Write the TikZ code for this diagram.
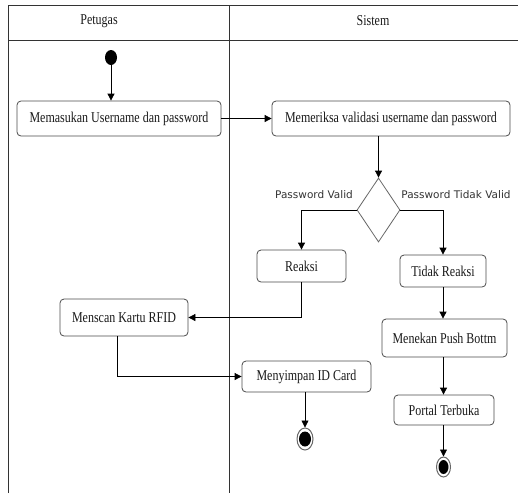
\documentclass[tikz,border=0pt]{standalone}
\usepackage{fontspec}
\setmainfont{Liberation Serif}[FakeStretch=0.8]
\newfontfamily\lblfont{DejaVu Sans}
\usetikzlibrary{shapes.geometric,arrows.meta}
\begin{document}
\begin{tikzpicture}[x=1pt,y=-1pt,
  lane/.style={draw=black!80,line width=0.9pt},
  act/.style={draw=black!70,line width=0.8pt,rounded corners=4pt,fill=white,inner sep=0pt,font=\fontsize{15}{16}\selectfont,text=black!90},
  flow/.style={draw=black,line width=0.8pt,-{Triangle[length=7pt,width=7pt]}},
  guard/.style={font=\lblfont\fontsize{10.5}{12}\selectfont,text=black!80},
  hdr/.style={font=\fontsize{15}{16}\selectfont,text=black!90}]
\useasboundingbox (0,0) rectangle (518,493);
% swimlanes
\draw[lane] (8,493) -- (8,5) -- (518,5);
\draw[lane] (8,40) -- (518,40);
\draw[lane] (229,5) -- (229,493);
\node[hdr] (h1) at (99,21) {Petugas};
\node[hdr] (h2) at (373,21) {Sistem};
% nodes
\node[ellipse,fill=black,inner sep=0pt,minimum width=12,minimum height=15] (start) at (111,57.5) {};
\node[act,minimum width=204,minimum height=35] (b1) at (119,118.5) {Memasukan Username dan password};
\node[act,minimum width=238,minimum height=35] (b2) at (391,118.5) {Memeriksa validasi username dan password};
\node[diamond,draw=black!60,line width=0.8pt,inner sep=0pt,minimum width=43,minimum height=64] (dec) at (378.5,210) {};
\node[act,minimum width=89,minimum height=32] (reaksi) at (301.5,266) {Reaksi};
\node[act,minimum width=86,minimum height=32] (tidak) at (443,271) {Tidak Reaksi};
\node[act,minimum width=128,minimum height=37] (scan) at (124,317.5) {Menscan Kartu RFID};
\node[act,minimum width=125,minimum height=38] (push) at (444.5,338) {Menekan Push Bottm};
\node[act,minimum width=129,minimum height=31] (simpan) at (306.5,376.5) {Menyimpan ID Card};
\node[act,minimum width=100,minimum height=30] (portal) at (444,410) {Portal Terbuka};
\node[ellipse,draw=black!60,line width=1pt,fill=white,inner sep=0pt,minimum width=16,minimum height=22] (end1) at (305,439) {};
\fill[black] (end1.center) ellipse [x radius=6,y radius=7.5];
\node[ellipse,draw=black!60,line width=1pt,fill=white,inner sep=0pt,minimum width=14,minimum height=20] (end2) at (443.5,467) {};
\fill[black] (end2.center) ellipse [x radius=5,y radius=7];
% guards
\node[guard] (g1) at (314,195) {Password Valid};
\node[guard] (g2) at (456,195) {Password Tidak Valid};
% flows
\draw[flow] (start) -- (start |- b1.north);
\draw[flow] (b1.east) -- (b2.west);
\draw[flow] (b2.south -| dec.north) -- (dec.north);
\draw[flow] (dec.west) -| (reaksi.north);
\draw[flow] (dec.east) -| (tidak.north);
\draw[flow] (reaksi.south) |- (scan.east);
\draw[flow] ([xshift=-7pt]scan.south) |- (simpan.west);
\draw[flow] (simpan.south -| end1.north) -- (end1.north);
\draw[flow] (tidak.south) -- (tidak.south |- push.north);
\draw[flow] (push.south -| end2.north) -- (end2.north |- portal.north);
\draw[flow] (portal.south -| end2.north) -- (end2.north);
\end{tikzpicture}
\end{document}
